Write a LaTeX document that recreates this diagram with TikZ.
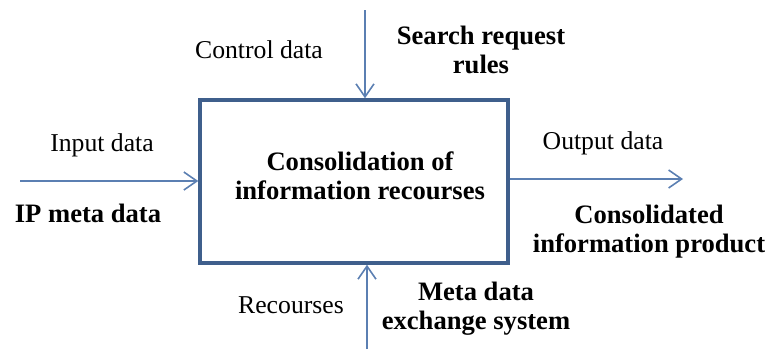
\documentclass[tikz,border=0pt]{standalone}
\usepackage{fontspec}
\setmainfont{Liberation Serif}
\usetikzlibrary{arrows.meta}
\definecolor{arrowblue}{HTML}{5B7FB2}
\definecolor{boxblue}{HTML}{3F5F8C}
\begin{document}
\begin{tikzpicture}[x=0.5pt,y=-0.5pt,
  every node/.style={font=\fontsize{12.85}{14.5}\selectfont, inner sep=0pt},
  lbl/.style={align=center},
  blbl/.style={align=center, font=\fontsize{13.3}{14.5}\selectfont\bfseries},
  flow/.style={draw=arrowblue, line width=0.8pt, -{Straight Barb[length=6.5pt,width=9pt,line width=0.8pt]}},
  procbox/.style={draw=boxblue, line width=1.75pt, minimum width=154pt, minimum height=81.5pt}]
\useasboundingbox (0,0) rectangle (766,349);
\node[procbox] (box) at (354,181.5) {};
\node[blbl] (boxtext) at (360,176) {Consolidation of\\information recourses};
\coordinate (ctop) at (365,10);
\coordinate (cbot) at (367,349);
\coordinate (inl) at (20,181);
\coordinate (outr) at (683,179);
\draw[flow] (ctop) -- (ctop |- box.north);
\draw[flow] (cbot) -- (cbot |- box.south);
\draw[flow] (inl) -- (inl -| box.west);
\draw[flow] (box.east |- outr) -- (outr);
\node[lbl] (ctrl) at (259,50) {Control data};
\node[blbl] (search) at (481,50) {Search request\\rules};
\node[lbl] (input) at (102,145) {Input data};
\node[blbl] (ipmeta) at (88,213) {IP meta data};
\node[lbl] (output) at (603,143) {Output data};
\node[blbl] (consol) at (649,232) {Consolidated\\information product};
\node[lbl] (recs) at (291,305) {Recourses};
\node[blbl] (metaex) at (476,309) {Meta data\\exchange system};
\end{tikzpicture}
\end{document}
